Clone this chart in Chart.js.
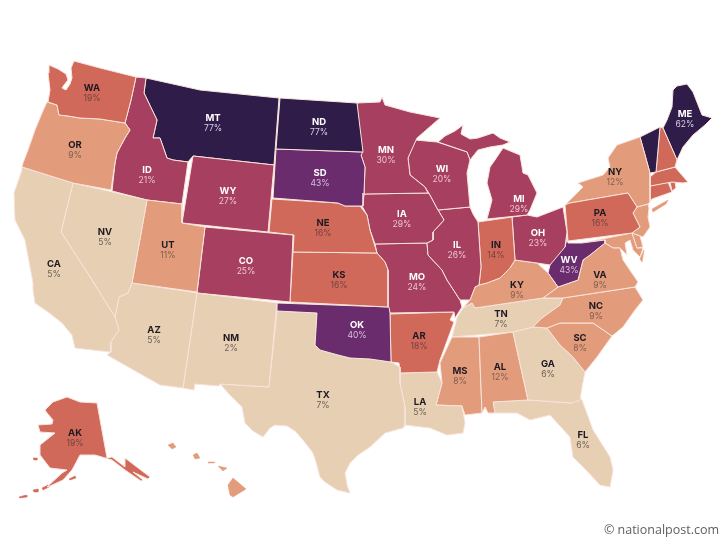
<!DOCTYPE html>
<html><head><meta charset="utf-8">
<style>html,body{margin:0;padding:0;background:#fff}canvas{display:block;filter:blur(0.4px)}</style>
<script src="https://cdn.jsdelivr.net/npm/chart.js@4"></script>
</head><body><canvas id="c" width="725" height="544"></canvas>
<script>
// Share per state (labelled states; unlabelled ones estimated from their colour)
const stateCodes  = ["WA","OR","CA","NV","ID","MT","WY","UT","AZ","CO","NM","ND","SD","NE","KS","OK","TX","MN","IA","MO","AR","LA","WI","IL","IN","MI","OH","KY","TN","MS","AL","GA","FL","SC","NC","VA","WV","PA","NY","ME","AK"];
const stateValues = [19,9,5,5,21,77,27,11,5,25,2,77,43,16,16,40,7,30,29,24,18,5,20,26,14,29,23,9,7,8,12,6,6,8,9,9,43,16,12,62,19];
const unlabelledCodes  = ["VT","NH","MA","CT","RI","NJ","DE","MD","HI"];
const unlabelledValues = [62,16,16,16,16,9,9,9,11];
const binLimits = [7,12,19,30,43,100];
const binColors = ["#e7cfb3","#e39c7b","#d1695b","#a63f60","#6a2c6c","#301c49"];
const binText   = ["#1d1a22","#1d1a22","#1d1a22","#ffffff","#ffffff","#ffffff"];
const binSub    = ["#6b6258","#7d5f50","#74423f","#eec3cf","#d9bfe0","#d8cfe6"];

// State outlines in map units
const outlines = {
WA:[[49,65],[58,69],[66,74],[68,80],[64,85],[62,88],[66,90],[70,84],[72,78],[71,68],[74,61],[100,68],[136,77],[131,100],[125,123],[100,119],[80,118],[68,116],[59,115],[57,105],[48,102],[50,90],[48,73]],
OR:[[47,102],[57,105],[59,115],[68,116],[80,118],[100,119],[125,123],[130,130],[125,138],[117,153],[115,163],[111,190],[73,183],[22,167],[23,163],[28,150],[35,130],[42,113]],
CA:[[22,167],[73,183],[61,232],[92,280],[115,317],[119,330],[110,343],[111,352],[92,350],[75,348],[72,335],[62,323],[48,312],[35,303],[33,290],[33,283],[25,240],[15,220],[14,193],[22,170]],
NV:[[73,183],[147,200],[132,283],[128,293],[119,297],[115,317],[92,280],[61,232]],
UT:[[147,200],[182,204],[182,223],[205,227],[197,292],[132,283]],
AZ:[[132,283],[197,293],[183,388],[160,385],[107,355],[111,352],[110,343],[119,330],[115,317],[119,297],[128,293]],
NM:[[197,293],[277,303],[269,387],[220,384],[219,386],[195,384],[194,390],[183,388]],
CO:[[205,227],[293,235],[290,302],[197,293]],
WY:[[193,156],[274,165],[268,232],[182,223]],
ID:[[136,77],[146,78],[144,93],[157,120],[153,138],[160,138],[167,158],[173,160],[188,162],[182,204],[147,200],[112,191],[115,163],[117,153],[125,138],[130,130],[125,123],[131,100]],
MT:[[146,78],[200,90],[279,98],[274,165],[193,156],[188,162],[173,160],[167,158],[160,138],[153,138],[157,120],[144,93]],
ND:[[280,98],[357,103],[363,152],[276,149]],
SD:[[276,149],[363,152],[361,155],[365,167],[364,193],[363,206],[345,206],[338,203],[273,198]],
NE:[[272,199],[338,203],[345,206],[360,206],[367,215],[370,230],[377,253],[293,252],[294,235],[269,232]],
KS:[[293,252],[377,253],[385,262],[388,270],[388,307],[290,302]],
OK:[[277,303],[389,307],[390,313],[391,362],[370,359],[350,358],[338,355],[320,350],[315,345],[317,313],[277,311]],
TX:[[277,311],[317,313],[315,345],[320,350],[338,355],[350,358],[370,359],[391,362],[400,367],[400,383],[405,407],[405,425],[403,428],[385,433],[370,447],[358,455],[350,463],[345,473],[347,485],[350,493],[337,490],[325,482],[320,477],[316,462],[313,453],[303,440],[295,431],[287,426],[275,425],[270,428],[263,437],[253,431],[245,423],[242,407],[230,395],[220,384],[269,387]],
MN:[[357,103],[380,102],[382,97],[385,105],[410,112],[440,118],[417,138],[408,158],[410,175],[425,187],[428,193],[364,194],[365,167],[361,155]],
WI:[[415,140],[437,142],[467,152],[470,160],[467,173],[470,207],[438,210],[430,195],[425,187],[410,175],[408,158]],
MI1:[[438,142],[445,136],[455,131],[463,125],[461,134],[470,139],[478,138],[493,133],[500,138],[510,142],[503,145],[490,147],[478,150],[470,160],[467,152]],
MI2:[[503,148],[520,155],[523,173],[528,175],[537,193],[530,210],[527,215],[487,219],[492,200],[487,183],[490,167],[495,160]],
IA:[[364,194],[428,193],[430,195],[438,210],[444,220],[433,232],[433,240],[427,243],[375,244],[370,230],[367,215],[362,206]],
IL:[[438,210],[470,207],[473,214],[478,222],[481,267],[479,285],[475,287],[470,300],[460,300],[447,280],[442,270],[428,255],[427,243],[433,240],[433,232],[444,220]],
MO:[[375,244],[427,243],[428,255],[442,270],[447,280],[460,300],[462,307],[455,318],[454,312],[390,313],[388,307],[388,270],[385,262],[377,253]],
AR:[[390,314],[454,312],[450,320],[454,322],[440,360],[437,372],[400,373],[399,363],[391,362]],
LA:[[400,373],[437,372],[442,383],[436,405],[462,406],[465,423],[463,433],[447,435],[430,428],[405,425],[405,407],[400,383]],
IN:[[478,222],[512,217],[515,260],[510,268],[500,278],[487,283],[479,285],[481,267]],
OH:[[512,217],[527,215],[537,217],[563,207],[567,232],[565,247],[550,265],[537,263],[515,260]],
KY:[[479,285],[487,283],[500,278],[510,268],[515,260],[537,263],[548,273],[558,287],[543,298],[475,308],[472,303],[463,308],[470,300],[475,287]],
WV:[[555,255],[565,247],[567,238],[568,243],[582,243],[597,241],[605,240],[605,243],[590,255],[583,260],[578,280],[558,287],[548,273],[550,265]],
VA:[[558,287],[578,280],[583,260],[590,255],[605,243],[613,248],[620,248],[623,260],[638,282],[635,287],[563,298],[543,298]],
NC:[[563,298],[635,287],[643,300],[635,310],[623,327],[612,336],[593,323],[560,323],[547,328],[533,327],[542,318],[560,305]],
TN:[[475,308],[543,298],[563,298],[560,305],[542,318],[533,327],[513,332],[452,337],[457,318],[463,308],[472,303]],
SC:[[547,328],[560,323],[593,323],[612,336],[597,357],[585,372],[573,357],[560,345]],
GA:[[513,332],[533,327],[547,328],[560,345],[573,357],[585,372],[582,387],[580,400],[572,403],[528,400]],
AL:[[479,337],[513,332],[528,400],[493,402],[495,413],[488,413],[485,407],[482,413]],
MS:[[452,337],[479,337],[482,413],[465,415],[462,406],[436,405],[442,383],[440,363]],
FL:[[493,402],[528,400],[572,403],[578,395],[582,400],[593,430],[610,457],[613,470],[610,487],[600,485],[586,470],[573,457],[570,437],[550,415],[530,420],[517,413],[495,413]],
PA:[[565,205],[570,203],[628,193],[637,207],[633,213],[640,227],[632,233],[568,241]],
NY:[[578,183],[603,175],[610,167],[608,158],[617,145],[640,137],[650,173],[650,202],[648,204],[637,207],[628,193],[570,203],[565,205],[583,187]],
VT:[[640,137],[660,127],[656,172],[650,173]],
NH:[[660,127],[663,128],[677,160],[675,167],[656,172]],
ME:[[673,90],[677,86],[687,84],[693,92],[702,115],[712,118],[705,125],[693,135],[683,147],[677,160],[663,128],[667,120],[672,107]],
MA:[[650,177],[656,172],[675,167],[680,173],[688,182],[683,183],[672,182],[650,186]],
CT:[[650,186],[668,182],[672,192],[652,199],[650,202]],
RI:[[670,182],[675,182],[676,188],[672,191]],
NYLI:[[652,209],[668,200],[666,204],[653,212]],
NJ:[[637,207],[648,204],[649,208],[648,217],[650,227],[643,237],[632,233],[640,227],[633,213]],
DE:[[632,233],[640,236],[643,247],[637,248]],
MD:[[582,243],[632,233],[637,248],[643,248],[640,257],[633,250],[630,240],[625,243],[627,255],[620,248],[613,248],[605,243],[605,240],[597,241]],
VAES:[[640,259],[644,250],[642,262]],
AK:[[45,410],[53,402],[67,397],[80,402],[97,403],[107,458],[112,457],[125,467],[125,458],[150,477],[148,479],[133,472],[143,480],[141,481],[125,470],[112,460],[95,455],[80,455],[72,470],[63,480],[50,486],[47,487],[62,473],[67,470],[50,468],[40,455],[40,445],[55,433],[40,432],[38,425],[52,424],[53,420],[47,413]],
AK2:[[33,490],[38,489],[38,492],[34,492]],
AK3:[[42,488],[48,485],[49,487],[43,490]],
AK4:[[19,497],[26,495],[27,497],[20,498]],
AK5:[[69,479],[75,476],[76,478],[70,480]],
AK6:[[33,458],[37,458],[37,460],[34,460]],
HI1:[[228,485],[233,478],[246,489],[233,497],[230,495]],
HI2:[[218,466],[227,468],[223,471]],
HI3:[[193,455],[197,453],[200,458],[195,459]],
HI4:[[168,445],[173,443],[176,447],[172,449]],
HI5:[[208,462],[215,462],[214,463],[208,463]]
};
const outlineOwner = {MI1:"MI",MI2:"MI",NYLI:"NY",VAES:"VA",AK2:"AK",AK3:"AK",AK4:"AK",AK5:"AK",AK6:"AK",HI1:"HI",HI2:"HI",HI3:"HI",HI4:"HI",HI5:"HI"};

// Label anchors in map units: [code, x, y]
const labelAnchors = [["WA",92,88],["OR",75,145],["CA",54,264],["NV",105,232],["ID",147,170],["MT",213,118],["WY",228,191],["UT",168,245],["AZ",154,330],["CO",246,261],["NM",231,338],["ND",319,122],["SD",320,173],["NE",323,223],["KS",339,275],["OK",357,325],["TX",323,395],["MN",386,150],["IA",402,214],["MO",417,277],["AR",419,336],["LA",420,402],["WI",442,169],["IL",457,245],["IN",496,245],["MI",519,199],["OH",538,233],["KY",517,285],["TN",501,314],["MS",460,371],["AL",500,367],["GA",548,364],["FL",583,435],["SC",580,338],["NC",596,306],["VA",600,275],["WV",569,260],["PA",600,213],["NY",615,172],["ME",685,114],["AK",75,433]];
const creditText = "© nationalpost.com";

function valueOf(code){
  let i = stateCodes.indexOf(code);
  return i >= 0 ? stateValues[i] : unlabelledValues[unlabelledCodes.indexOf(code)];
}
function binOf(v){ return binLimits.findIndex(l => v <= l); }

const datasets = Object.keys(outlines).map(key => {
  const code = outlineOwner[key] || key;
  const c = binColors[binOf(valueOf(code))];
  const pts = outlines[key].map(p => ({x:p[0], y:p[1]}));
  pts.push(pts[0]);
  const islet = key !== code && key !== "MI1" && key !== "MI2";
  return {label:key, data:pts, showLine:true, fill:"shape", backgroundColor:c,
          borderColor: islet ? c : "#f8e3da", borderWidth: islet ? 0.5 : 1, pointRadius:0, tension:0};
});

const labelPlugin = {
  id:"stateLabels",
  afterDatasetsDraw(chart){
    const {ctx, scales:{x, y}} = chart;
    ctx.save();
    ctx.textAlign = "center"; ctx.textBaseline = "middle";
    labelAnchors.forEach(([code, lx, ly]) => {
      const v = valueOf(code), b = binOf(v);
      const px = x.getPixelForValue(lx), py = y.getPixelForValue(ly);
      ctx.font = "700 9.5px Inter, 'Open Sans', sans-serif";
      ctx.fillStyle = binText[b];
      ctx.fillText(code, px, py);
      ctx.font = "400 8.5px Inter, 'Open Sans', sans-serif";
      ctx.fillStyle = binSub[b];
      ctx.fillText(v + "%", px, py + 10);
    });
    ctx.textAlign = "right";
    ctx.font = "400 12.5px 'Open Sans', sans-serif";
    ctx.fillStyle = "#606060";
    ctx.fillText(creditText, 719, 530);
    ctx.restore();
  }
};

new Chart(document.getElementById("c"), {
  type:"scatter",
  data:{datasets},
  plugins:[labelPlugin],
  options:{
    responsive:false, animation:false, devicePixelRatio:1,
    layout:{padding:0},
    plugins:{legend:{display:false}, tooltip:{enabled:false}, title:{display:false}},
    scales:{
      x:{type:"linear", min:0, max:725, display:false},
      y:{type:"linear", min:0, max:544, reverse:true, display:false}
    }
  }
});
</script></body></html>
